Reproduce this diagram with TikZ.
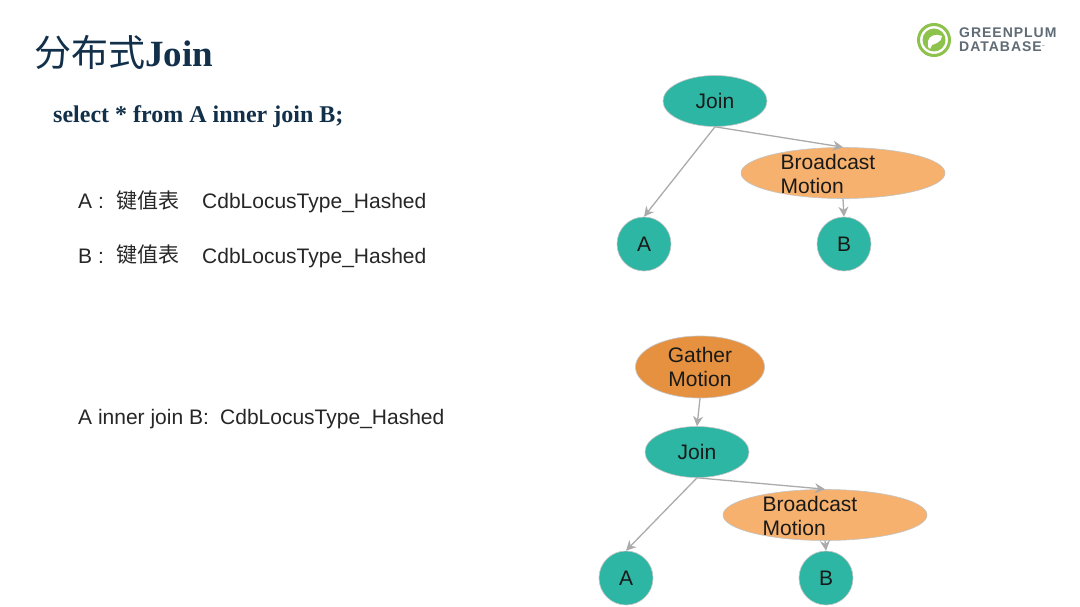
\documentclass[tikz,border=0pt]{standalone}
\usepackage{fontspec}
\setmainfont{Liberation Sans}
\newfontfamily\titlefont{Liberation Serif}
\newfontfamily\cjkfont{Noto Sans CJK SC}
\newfontfamily\logofont[LetterSpace=7]{Liberation Sans}
\usetikzlibrary{shapes.geometric}
\usetikzlibrary{arrows.meta}

\definecolor{tealfill}{HTML}{2DB6A3}
\definecolor{peachfill}{HTML}{F5B16D}
\definecolor{orangefill}{HTML}{E5913F}
\definecolor{navytext}{HTML}{12304A}
\definecolor{edgegray}{HTML}{ABABAB}
\definecolor{logogreen}{HTML}{8DC24C}
\definecolor{logogray}{HTML}{5F6B75}

\tikzset{
  opnode/.style={ellipse, draw=edgegray!70, line width=0.6pt, inner sep=0pt, text=black!90,
    font=\fontsize{21}{24}\selectfont, align=center},
  joinnode/.style={opnode, fill=tealfill, minimum width=104pt, minimum height=51pt},
  leafnode/.style={opnode, fill=tealfill, minimum width=54pt, minimum height=54pt},
  bcastnode/.style={opnode, fill=peachfill, minimum width=204pt, minimum height=51pt},
  gathernode/.style={opnode, fill=orangefill, minimum width=129pt, minimum height=62pt},
  motionlabel/.style={inner sep=0pt, text=black!90, font=\fontsize{21}{24}\selectfont, align=left},
  bodytext/.style={anchor=base west, inner sep=0pt, text=black!85, font=\fontsize{21}{24}\selectfont},
  flow/.style={draw=edgegray, line width=1.3pt, -{Stealth[length=10pt,width=10pt]}},
}

\begin{document}
\begin{tikzpicture}[x=1pt, y=-1pt]
\useasboundingbox[fill=white] (0,0) rectangle (1080,607);

% heading
\node[anchor=west, inner sep=0pt, text=navytext] (title) at (34,52)
  {{\cjkfont\fontsize{37}{40}\selectfont 分布式}{\titlefont\bfseries\fontsize{37}{40}\selectfont Join}};
\node[anchor=base west, inner sep=0pt, text=navytext, font=\titlefont\bfseries\fontsize{24}{26}\selectfont] (query) at (53,123)
  {select * from A inner join B;};

% logo
\draw[logogreen, line width=3pt] (934,40) circle (15.5);
\fill[logogreen] (934,40) circle (11.5);
\fill[white] (928,47) -- (928,41) .. controls (929,36) and (936,33) .. (942,36)
  .. controls (942,39) and (940,42) .. (937,43) -- (932,45) -- (930,49) -- cycle;
\node[anchor=west, inner sep=0pt, text=logogray, font=\logofont\bfseries\fontsize{14}{14}\selectfont] (logotop) at (959,32.5) {GREENPLUM};
\node[anchor=west, inner sep=0pt, text=logogray, font=\logofont\bfseries\fontsize{14}{14}\selectfont] (logobottom) at (959,46.5)
  {DATABASE\raisebox{4pt}{\fontsize{3}{3}\selectfont ™}};

% table descriptions
\node[bodytext] (tablea) at (78,209) {A :};
\node[bodytext] (kinda) at (116,208) {\cjkfont 键值表};
\node[bodytext] (locusa) at (202,209) {CdbLocusType\_Hashed};
\node[bodytext] (tableb) at (78,263) {B :};
\node[bodytext] (kindb) at (116,262) {\cjkfont 键值表};
\node[bodytext] (locusb) at (202,263) {CdbLocusType\_Hashed};
\node[bodytext] (result) at (78,424) {A inner join B:};
\node[bodytext] (locusr) at (220,424) {CdbLocusType\_Hashed};

% upper plan
\node[joinnode] (join1) at (715,101) {Join};
\node[bcastnode] (bcast1) at (843,173) {};
\node[motionlabel] (bcasttext1) at (828,174) {Broadcast\\Motion};
\node[leafnode] (a1) at (644,244) {A};
\node[leafnode] (b1) at (844,244) {B};
\draw[flow] (join1.south) -- (a1.north);
\draw[flow] (join1.south) -- (bcast1.north);
\draw[flow] (bcast1.south) -- (b1.north);

% lower plan
\node[gathernode] (gather2) at (700,367) {Gather\\Motion};
\node[joinnode] (join2) at (697,452) {Join};
\node[bcastnode] (bcast2) at (825,515) {};
\node[motionlabel] (bcasttext2) at (810,516) {Broadcast\\Motion};
\node[leafnode] (a2) at (626,578) {A};
\node[leafnode] (b2) at (826,578) {B};
\draw[flow] (gather2.south) -- (join2.north);
\draw[flow] (join2.south) -- (a2.north);
\draw[flow] (join2.south) -- (bcast2.north);
\draw[flow] (bcast2.south) -- (b2.north);
\end{tikzpicture}
\end{document}
